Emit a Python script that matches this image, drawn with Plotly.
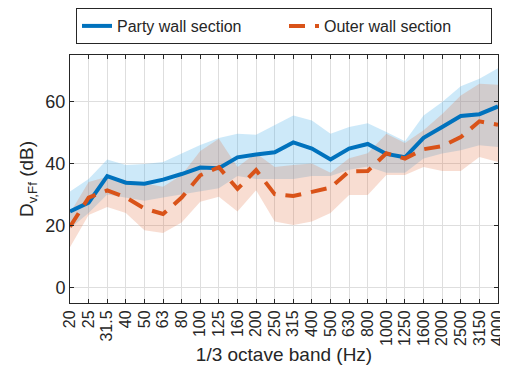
import plotly.graph_objects as go

bands = ["20", "25", "31.5", "40", "50", "63", "80", "100", "125", "160", "200", "250",
         "315", "400", "500", "630", "800", "1000", "1250", "1600", "2000", "2500", "3150", "4000"]

party_mean = [24.5, 27.4, 35.9, 33.8, 33.5, 34.8, 36.6, 38.7, 38.5, 42.0, 42.9, 43.6,
              46.8, 44.8, 41.3, 44.8, 46.3, 43.1, 42.0, 48.3, 51.8, 55.3, 55.9, 58.4]
party_hi = [31.0, 35.0, 41.3, 39.5, 39.8, 40.5, 43.2, 46.0, 48.2, 49.6, 49.3, 52.3,
            55.5, 53.9, 49.6, 51.8, 53.0, 50.2, 47.2, 55.5, 59.8, 64.9, 67.3, 70.7]
party_lo = [19.0, 24.0, 30.0, 29.0, 28.0, 29.0, 30.0, 31.0, 32.0, 36.0, 35.0, 35.0,
            35.0, 36.0, 36.0, 38.0, 39.0, 37.0, 37.0, 41.6, 43.2, 44.3, 45.9, 45.3]

outer_mean = [19.6, 29.0, 31.3, 29.1, 25.5, 23.7, 29.0, 36.2, 38.8, 31.8, 37.9, 30.1,
              29.5, 30.9, 32.2, 37.5, 37.6, 43.3, 41.6, 44.6, 45.6, 48.5, 53.6, 52.5]
outer_hi = [24.0, 34.0, 35.7, 34.7, 33.6, 32.5, 36.3, 44.0, 48.0, 38.9, 43.3, 38.9,
            39.5, 40.0, 37.0, 41.7, 43.3, 49.6, 46.6, 50.7, 56.0, 61.9, 65.7, 65.4]
outer_lo = [13.0, 23.4, 26.0, 24.0, 18.5, 17.6, 21.0, 27.7, 29.3, 24.5, 31.4, 21.3,
            20.2, 21.3, 24.0, 29.8, 29.8, 36.3, 36.3, 38.9, 37.6, 37.6, 42.1, 40.5]

y_ticks = [0, 20, 40, 60]

blue = "#0072BD"
orange = "#D95319"
txt = "#262626"
font = "Liberation Sans"

fig = go.Figure()

# shaded ranges
fig.add_trace(go.Scatter(x=bands, y=party_hi, mode="lines", line=dict(width=0),
                         showlegend=False, hoverinfo="skip"))
fig.add_trace(go.Scatter(x=bands, y=party_lo, mode="lines", line=dict(width=0),
                         fill="tonexty", fillcolor="rgba(77,175,235,0.28)",
                         showlegend=False, hoverinfo="skip"))
fig.add_trace(go.Scatter(x=bands, y=outer_hi, mode="lines", line=dict(width=0),
                         showlegend=False, hoverinfo="skip"))
fig.add_trace(go.Scatter(x=bands, y=outer_lo, mode="lines", line=dict(width=0),
                         fill="tonexty", fillcolor="rgba(225,110,60,0.23)",
                         showlegend=False, hoverinfo="skip"))

# mean lines
fig.add_trace(go.Scatter(x=bands, y=party_mean, mode="lines", name="Party wall section",
                         line=dict(color=blue, width=4)))
fig.add_trace(go.Scatter(x=bands, y=outer_mean, mode="lines", name="Outer wall section",
                         line=dict(color=orange, width=4, dash="16px,10px")))

# page body has an 8px margin, so the figure is 8px smaller than the window
fig.update_layout(
    width=500, height=367,
    margin=dict(l=62, r=10, t=47, b=72, autoexpand=False),
    paper_bgcolor="white", plot_bgcolor="white",
    font=dict(family=font, size=16, color=txt),
    legend=dict(orientation="h", traceorder="normal",
                x=0.5, xanchor="center", xref="paper",
                y=1.0, yanchor="top", yref="container",
                bordercolor=txt, borderwidth=1, bgcolor="white",
                font=dict(size=16, color=txt),
                entrywidth=162, tracegroupgap=0),
    showlegend=True,
)

fig.update_xaxes(
    type="category", range=[0, 23], tickangle=-90,
    tickmode="array", tickvals=bands, ticktext=bands,
    tickfont=dict(size=16, color=txt),
    showgrid=True, gridcolor="#dedede", gridwidth=1,
    showline=True, linecolor=txt, linewidth=1, mirror="allticks",
    ticks="inside", ticklen=4, tickcolor=txt,
    title=dict(text="1/3 octave band (Hz)", font=dict(size=19, color=txt), standoff=2),
    zeroline=False, automargin=False,
)
fig.update_yaxes(
    range=[-5, 75], tickmode="array", tickvals=y_ticks,
    tickfont=dict(size=18, color=txt),
    showgrid=True, gridcolor="#dedede", gridwidth=1,
    showline=True, linecolor=txt, linewidth=1, mirror="allticks",
    ticks="inside", ticklen=4, tickcolor=txt,
    title=dict(text="D<sub>v,Ff</sub> (dB)", font=dict(size=19, color=txt), standoff=6),
    zeroline=False, automargin=False,
)

fig.write_html("out.html")
